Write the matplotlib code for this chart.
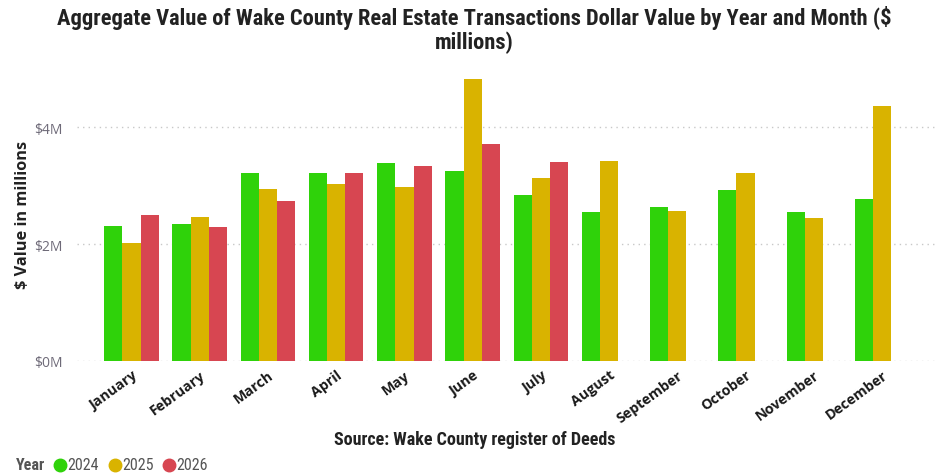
import matplotlib
matplotlib.use("Agg")
import matplotlib.pyplot as plt
import numpy as np
from matplotlib import font_manager
from matplotlib.lines import Line2D

months = ["January", "February", "March", "April", "May", "June", "July",
          "August", "September", "October", "November", "December"]
years = ["2024", "2025", "2026"]
v2024 = [2.31, 2.34, 3.22, 3.22, 3.39, 3.25, 2.84, 2.55, 2.63, 2.93, 2.55, 2.77]
v2025 = [2.02, 2.46, 2.94, 3.03, 2.98, 4.83, 3.13, 3.42, 2.57, 3.22, 2.45, 4.37]
v2026 = [2.50, 2.29, 2.74, 3.22, 3.34, 3.71, 3.41]
yticks = [0, 2, 4]
ytick_labels = ["$0M", "$2M", "$4M"]
colors = ["#2FD20A", "#D9B300", "#D74651"]

avail = {f.name for f in font_manager.fontManager.ttflist}
narrow = None
for cand in ["Roboto Condensed", "Liberation Sans Narrow", "Open Sans Condensed", "DejaVu Sans Condensed"]:
    if cand in avail:
        narrow = cand
        break
if narrow is None:
    narrow = "DejaVu Sans"
uifont = "Open Sans" if "Open Sans" in avail else "DejaVu Sans"

fig = plt.figure(figsize=(9.49, 4.77), dpi=100)
ax = fig.add_axes([0.081, 0.2417, 0.906, 0.6115])

x = np.arange(len(months))
w = 0.8 / 3
series = [v2024, v2025, v2026]
for i, (vals, c) in enumerate(zip(series, colors)):
    xs = x[:len(vals)] + (i - 1) * w
    ax.bar(xs, vals, width=w, color=c, linewidth=0)

ax.set_xlim(-0.8, 11.8)
ax.set_ylim(0, 5.0)
ax.set_yticks(yticks)
ax.set_yticklabels(ytick_labels, color="#6E6A78", fontsize=10, family=uifont)
ax.yaxis.grid(True, linestyle=(0, (1, 3)), color="#C8C8C8", linewidth=1)
ax.set_axisbelow(True)
for s in ax.spines.values():
    s.set_visible(False)
ax.tick_params(axis="y", length=0, pad=10)
ax.tick_params(axis="x", length=0, pad=5)
ax.set_xticks(x)
ax.set_xticklabels(months, rotation=36, ha="right", rotation_mode="anchor",
                   fontsize=10.3, fontweight="bold", color="#1A1A1A", family=uifont)

fig.text(23 / 949, 1 - 215 / 477, "$ Value in millions", rotation=90, ha="center", va="center",
         fontsize=11.8, fontweight="bold", color="#222222", family=uifont)

fig.text(0.5, 1 - 25 / 477,
         "Aggregate Value of Wake County Real Estate Transactions Dollar Value by Year and Month ($",
         ha="center", va="baseline", fontsize=16.2, fontweight="bold", color="#222222", family=narrow)
fig.text(0.5, 1 - 49.5 / 477, "millions)",
         ha="center", va="baseline", fontsize=16.2, fontweight="bold", color="#222222", family=narrow)

fig.text(0.5, 1 - 440 / 477, "Source: Wake County register of Deeds", ha="center", va="center",
         fontsize=13, fontweight="bold", color="#222222", family=narrow)

# legend
ly = 1 - 466 / 477
fig.text(16 / 949, ly, "Year", ha="left", va="center", fontsize=11.5, fontweight="bold",
         color="#555555", family=narrow)
dot_x = [60, 115, 169]
for dx, c, yr in zip(dot_x, colors, years):
    fig.add_artist(Line2D([dx / 949], [ly], marker="o", markersize=9, markerfacecolor=c,
                          markeredgecolor=c, linestyle="", transform=fig.transFigure))
    fig.text((dx + 7) / 949, ly, yr, ha="left", va="center", fontsize=11.5, color="#555555",
             family=narrow)

fig.savefig("out.png", dpi=100)
